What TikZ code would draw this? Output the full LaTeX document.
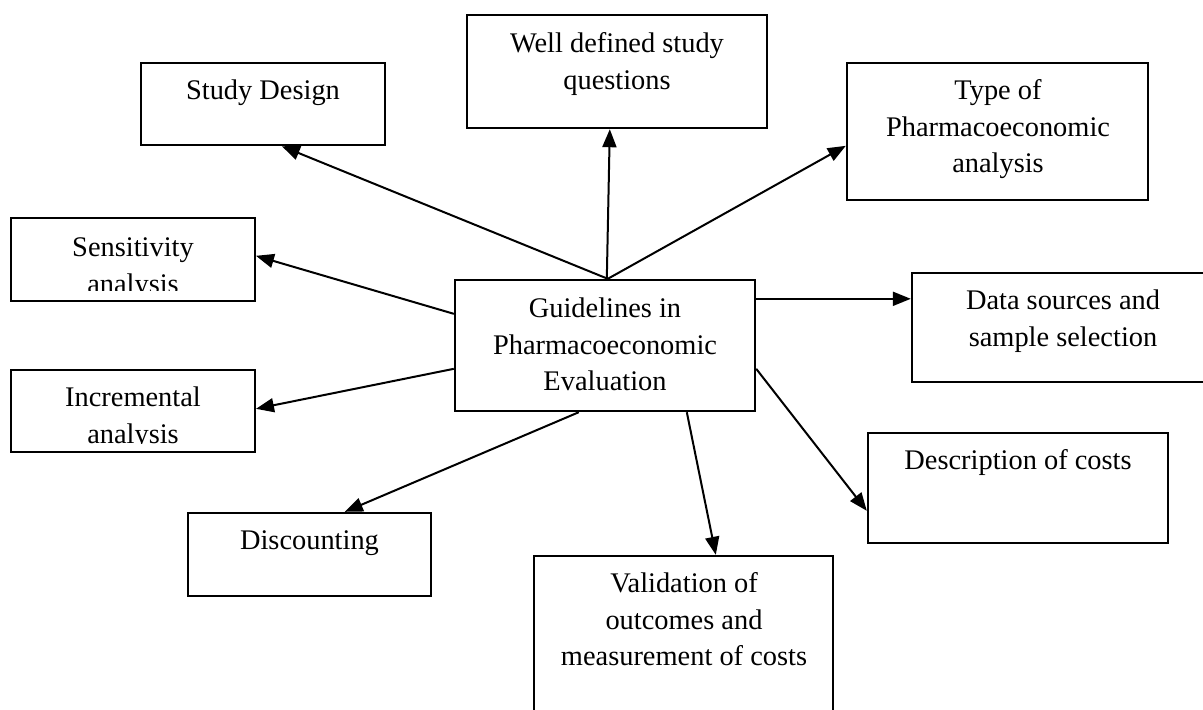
\documentclass[tikz,border=0pt]{standalone}
\usepackage{fontspec}
\setmainfont{Liberation Serif}
\usetikzlibrary{arrows.meta,calc}
\begin{document}
\begin{tikzpicture}[x=0.5pt,y=-0.5pt,
  box/.style 2 args={draw,line width=1.2pt,inner sep=0pt,minimum width=#1*0.5pt,minimum height=#2*0.5pt},
  txt/.style={align=center,font=\fontsize{14.2pt}{18.25pt}\selectfont,inner sep=0pt,anchor=base},
  arr/.style={line width=1pt,-{Triangle[length=9pt,width=7pt]}}]
\clip (0,0) rectangle (1203,709);
\fill[white] (0,0) rectangle (1203,709);
% boxes
\node[box={244}{82}]   (study) at (263,104) {};
\node[box={300}{113}]  (well)  at (617,71.5) {};
\node[box={301}{137}]  (type)  at (997.5,131.5) {};
\node[box={243.5}{83}] (sens)  at (133,259.5) {};
\node[box={243.5}{82}] (incr)  at (133,411) {};
\node[box={300}{131}]  (ctr)   at (605,345.5) {};
\node[box={302}{109}]  (data)  at (1063,327.5) {};
\node[box={300}{110}]  (desc)  at (1018,488) {};
\node[box={243}{83}]   (disc)  at (309.5,554.5) {};
\node[box={299}{174}]  (valid) at (683.5,643) {};
% texts (anchor base = baseline of the last line)
\node[txt] (tstudy) at (263,99.5) {Study Design};
\node[txt] (twell)  at (617,89) {Well defined study\\questions};
\node[txt] (ttype)  at (998,172.5) {Type of\\Pharmacoeconomic\\analysis};
\begin{scope}
  \clip (sens.north west) rectangle ($(sens.south east)+(0,-12)$);
  \node[txt] (tsens) at (133,293) {Sensitivity\\analysis};
\end{scope}
\begin{scope}
  \clip (incr.north west) rectangle ($(incr.south east)+(0,-10)$);
  \node[txt] (tincr) at (133,443) {Incremental\\analysis};
\end{scope}
\node[txt] (tctr)   at (605,390.5) {Guidelines in\\Pharmacoeconomic\\Evaluation};
\node[txt] (tdata)  at (1063,346) {Data sources and\\sample selection};
\node[txt] (tdesc)  at (1018,469.5) {Description of costs};
\node[txt] (tdisc)  at (309.5,549.5) {Discounting};
\node[txt] (tvalid) at (684,665.5) {Validation of\\outcomes and\\measurement of costs};
% connectors
\draw[arr] ($(ctr.north west)+(154,0)$) -- ($(study.south west)+(142,0)$);
\draw[arr] ($(ctr.north west)+(153,0)$) -- ($(well.south west)+(144,0)$);
\draw[arr] ($(ctr.north west)+(154,0)$) -- ($(type.north west)+(0,84)$);
\draw[arr] ($(ctr.north west)+(0,35)$) -- ($(sens.north east)+(0,39)$);
\draw[arr] ($(ctr.north east)+(0,20)$) -- ($(data.north west)+(0,27)$);
\draw[arr] ($(ctr.north west)+(0,90)$) -- ($(incr.north east)+(0,40)$);
\draw[arr] ($(ctr.south west)+(125,0)$) -- ($(disc.north west)+(158,0)$);
\draw[arr] ($(ctr.south west)+(233,0)$) -- ($(valid.north west)+(183,0)$);
\draw[arr] ($(ctr.north east)+(0,90)$) -- ($(desc.north west)+(0,79)$);
\end{tikzpicture}
\end{document}
